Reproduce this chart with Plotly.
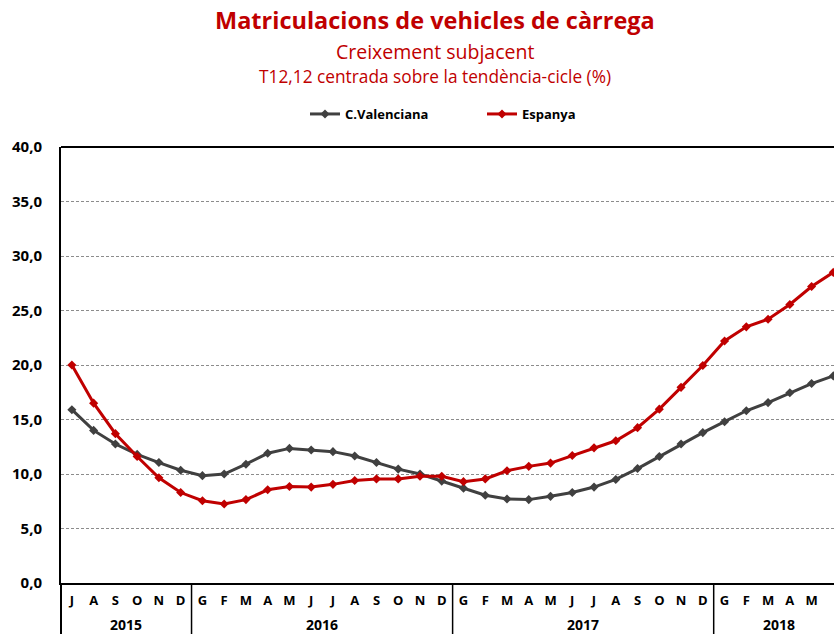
import plotly.graph_objects as go

months = ["J", "A", "S", "O", "N", "D"] + \
         ["G", "F", "M", "A", "M", "J", "J", "A", "S", "O", "N", "D"] * 2 + \
         ["G", "F", "M", "A", "M", "J"]
years = [2015] * 6 + [2016] * 12 + [2017] * 12 + [2018] * 6

c_valenciana = [15.9, 14.0, 12.75, 11.8, 11.05, 10.35,
                9.85, 10.0, 10.9, 11.9, 12.35, 12.2, 12.05, 11.65, 11.05, 10.45, 10.0, 9.35,
                8.7, 8.05, 7.7, 7.65, 7.95, 8.3, 8.8, 9.5, 10.5, 11.6, 12.75, 13.8,
                14.8, 15.8, 16.55, 17.45, 18.3, 19.0]
espanya = [20.0, 16.5, 13.7, 11.6, 9.65, 8.3,
           7.55, 7.25, 7.65, 8.55, 8.85, 8.8, 9.05, 9.4, 9.55, 9.55, 9.8, 9.8,
           9.3, 9.55, 10.3, 10.7, 11.0, 11.7, 12.4, 13.05, 14.25, 15.95, 17.95, 19.95,
           22.2, 23.5, 24.2, 25.55, 27.2, 28.5]

FONT = "Open Sans"
RED = "#C00000"
GREY = "#404040"

x = list(range(len(months)))

fig = go.Figure()
fig.add_trace(go.Scatter(x=x, y=c_valenciana, name="C.Valenciana", mode="lines+markers",
                         line=dict(color=GREY, width=3),
                         marker=dict(symbol="diamond", size=7, color=GREY)))
fig.add_trace(go.Scatter(x=x, y=espanya, name="Espanya", mode="lines+markers",
                         line=dict(color=RED, width=3),
                         marker=dict(symbol="diamond", size=7, color=RED)))

W, H = 834, 634
ML, MT = 61, 147
BOTTOM = 583
MB = H - BOTTOM
plot_w = W - ML
plot_h = H - MT - MB

def ypx(py):
    """page pixel y -> paper y"""
    return 1 + (MT - py) / plot_h

def xpx(px):
    return (px - ML) / plot_w

# year groups
groups = []
for i, yv in enumerate(years):
    if not groups or groups[-1][0] != yv:
        groups.append([yv, i, i])
    else:
        groups[-1][2] = i

annotations = []
shapes = []
for yv, s, e in groups:
    annotations.append(dict(x=(s + e) / 2, xref="x", y=ypx(624), yref="paper",
                            yanchor="middle",
                            text=str(yv), showarrow=False,
                            font=dict(family=FONT, size=14, color="black", weight="bold")))
    if e < len(months) - 1:
        shapes.append(dict(type="line", xref="x", yref="paper", x0=e + 0.5, x1=e + 0.5,
                           y0=0, y1=-MB / plot_h, line=dict(color="black", width=1.5)))

# left border extension and top border
shapes.append(dict(type="line", xref="paper", yref="paper", x0=0, x1=0, y0=0,
                   y1=-MB / plot_h, line=dict(color="black", width=2)))
shapes.append(dict(type="line", xref="paper", yref="paper", x0=0, x1=1, y0=1, y1=1,
                   line=dict(color="black", width=2)))

cx = xpx(435)
annotations += [
    dict(x=cx, y=ypx(20), xref="paper", yref="paper", text="Matriculacions de vehicles de càrrega",
         yanchor="middle", showarrow=False, font=dict(family=FONT, size=23.5, color=RED, weight="bold")),
    dict(x=cx, y=ypx(52), xref="paper", yref="paper", text="Creixement subjacent",
         yanchor="middle", showarrow=False, font=dict(family=FONT, size=19.5, color=RED)),
    dict(x=cx, y=ypx(77), xref="paper", yref="paper", text="T12,12 centrada sobre la tendència-cicle (%)",
         yanchor="middle", showarrow=False, font=dict(family=FONT, size=17.3, color=RED)),
]

fig.update_layout(
    width=W, height=H,
    margin=dict(l=ML, r=0, t=MT, b=MB, pad=0, autoexpand=False),
    plot_bgcolor="white", paper_bgcolor="white",
    separators=",.",
    font=dict(family=FONT, color="black"),
    showlegend=True,
    legend=dict(orientation="h", x=xpx(305), xanchor="left", y=ypx(114), yanchor="middle",
                font=dict(family=FONT, size=13, color="black", weight="bold"),
                entrywidth=132, entrywidthmode="pixels", bgcolor="rgba(0,0,0,0)"),
    xaxis=dict(range=[-0.5, len(months) - 0.97], tickmode="array", tickvals=x, ticktext=months,
               showgrid=False, zeroline=False, showline=True, linecolor="black", linewidth=2,
               ticks="", tickfont=dict(family=FONT, size=13, color="black", weight="bold"),
               ticklabelstandoff=4, automargin=False),
    yaxis=dict(range=[0, 40], dtick=5, tickformat=".1f", showgrid=True, gridcolor="#8c8c8c",
               griddash="3px,2px", gridwidth=1, zeroline=False, showline=True, linecolor="black",
               linewidth=2, ticks="", tickfont=dict(family=FONT, size=15, color="black", weight="bold"),
               ticklabelstandoff=14, automargin=False),
    annotations=annotations,
    shapes=shapes,
)

fig.write_html("out.html", config={"displayModeBar": False},
               post_script="document.body.style.margin='0';document.body.style.overflow='hidden';")
